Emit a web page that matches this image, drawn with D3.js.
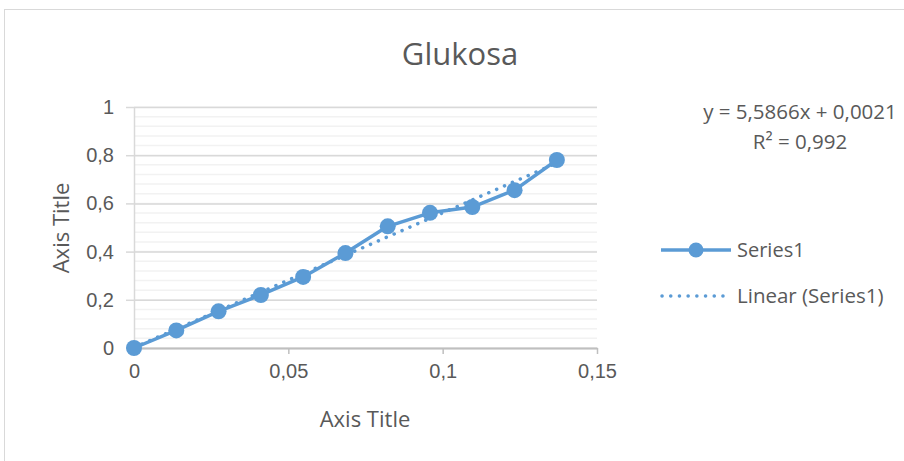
<!DOCTYPE html>
<html>
<head>
<meta charset="utf-8">
<script src="https://cdn.jsdelivr.net/npm/d3@7"></script>
<style>
  body { margin: 0; background: #fff; }
  svg { display: block; font-family: "Open Sans", "Noto Sans", sans-serif; }
</style>
</head>
<body>
<svg id="chart" width="904" height="461"></svg>
<script>
/* values */
var concentrations = [0, 0.0137, 0.0274, 0.0411, 0.0548, 0.0685, 0.0822, 0.0959, 0.1096, 0.1233, 0.137];
var absorbances = [0, 0.073, 0.152, 0.220, 0.295, 0.394, 0.505, 0.561, 0.585, 0.655, 0.780];
var xTicks = [0, 0.05, 0.1, 0.15];
var yTicks = [0, 0.2, 0.4, 0.6, 0.8, 1];
var trendSlope = 5.5866;
var trendIntercept = 0.0021;
var equationLines = ["y = 5,5866x + 0,0021", "R\u00b2 = 0,992"];
var seriesName = "Series1";
var trendName = "Linear (Series1)";

var blue = "#5B9BD5";
var textColor = "#595959";
var commaFmt = function (d) { return String(d).replace(".", ","); };

var svg = d3.select("#chart");

// outer chart border (runs off right and bottom edge)
svg.append("rect")
    .attr("x", 4.5).attr("y", 9.5)
    .attr("width", 920).attr("height", 470)
    .attr("fill", "none")
    .attr("stroke", "#D9D9D9")
    .attr("stroke-width", 1);

var x = d3.scaleLinear().domain([0, 0.15]).range([134, 597]);
var y = d3.scaleLinear().domain([0, 1]).range([348, 107]);

// minor gridlines
var minor = d3.range(0, 1.0001, 0.04);
svg.append("g").selectAll("line")
    .data(minor)
    .enter().append("line")
    .attr("x1", x(0)).attr("x2", x(0.15))
    .attr("y1", function (d) { return y(d); })
    .attr("y2", function (d) { return y(d); })
    .attr("stroke", "#F2F2F2")
    .attr("stroke-width", 1.5);

// major gridlines + y axis
var yAxis = d3.axisLeft(y).tickValues(yTicks).tickFormat(commaFmt)
    .tickSize(8).tickSizeOuter(0).tickPadding(12);
var gy = svg.append("g").attr("transform", "translate(" + x(0) + ",0)").call(yAxis);
gy.select(".domain").attr("stroke", "#D9D9D9").attr("stroke-width", 1.5);
gy.selectAll(".tick line").clone()
    .attr("x2", x(0.15) - x(0));
gy.selectAll(".tick line").attr("stroke", "#D9D9D9").attr("stroke-width", 1.5);
gy.selectAll(".tick text")
    .attr("fill", textColor)
    .style("font-size", "20px");

// x axis
var xAxis = d3.axisBottom(x).tickValues(xTicks).tickFormat(commaFmt)
    .tickSize(6).tickSizeOuter(0).tickPadding(10);
var gx = svg.append("g").attr("transform", "translate(0," + y(0) + ")").call(xAxis);
gx.select(".domain").attr("stroke", "#BFBFBF").attr("stroke-width", 2);
gx.selectAll(".tick line").attr("stroke", "#BFBFBF").attr("stroke-width", 1.5);
gx.selectAll(".tick text")
    .attr("fill", textColor)
    .style("font-size", "20px");

// trendline
var xs = d3.extent(concentrations);
svg.append("line")
    .attr("x1", x(xs[0])).attr("y1", y(trendSlope * xs[0] + trendIntercept))
    .attr("x2", x(xs[1])).attr("y2", y(trendSlope * xs[1] + trendIntercept))
    .attr("stroke", blue)
    .attr("stroke-width", 3.5)
    .attr("stroke-linecap", "round")
    .attr("stroke-dasharray", "0.1 8.5");

// series line + markers
var pts = concentrations.map(function (c, i) { return [c, absorbances[i]]; });
var line = d3.line()
    .x(function (d) { return x(d[0]); })
    .y(function (d) { return y(d[1]); });
svg.append("path")
    .attr("d", line(pts))
    .attr("fill", "none")
    .attr("stroke", blue)
    .attr("stroke-width", 3.5)
    .attr("stroke-linejoin", "round");
svg.append("g").selectAll("circle")
    .data(pts)
    .enter().append("circle")
    .attr("cx", function (d) { return x(d[0]); })
    .attr("cy", function (d) { return y(d[1]); })
    .attr("r", 8)
    .attr("fill", blue);

// title + axis titles
svg.append("text")
    .attr("x", 460).attr("y", 65)
    .attr("text-anchor", "middle")
    .attr("fill", textColor)
    .style("font-size", "31px")
    .text("Glukosa");
svg.append("text")
    .attr("x", 365).attr("y", 427)
    .attr("text-anchor", "middle")
    .attr("fill", textColor)
    .style("font-size", "22px")
    .text("Axis Title");
svg.append("text")
    .attr("transform", "translate(69,228) rotate(-90)")
    .attr("text-anchor", "middle")
    .attr("fill", textColor)
    .style("font-size", "22px")
    .text("Axis Title");

// trendline equation
svg.append("g").selectAll("text")
    .data(equationLines)
    .enter().append("text")
    .attr("x", 800)
    .attr("y", function (d, i) { return 119 + i * 30; })
    .attr("text-anchor", "middle")
    .attr("fill", textColor)
    .style("font-size", "20.5px")
    .text(function (d) { return d; });

// legend
var lg = svg.append("g");
lg.append("line")
    .attr("x1", 661).attr("x2", 731).attr("y1", 250).attr("y2", 250)
    .attr("stroke", blue).attr("stroke-width", 3.5);
lg.append("circle")
    .attr("cx", 696).attr("cy", 250).attr("r", 7.5)
    .attr("fill", blue);
lg.append("text")
    .attr("x", 737).attr("y", 257)
    .attr("fill", textColor)
    .style("font-size", "20px")
    .text(seriesName);
lg.append("line")
    .attr("x1", 662).attr("x2", 731).attr("y1", 296).attr("y2", 296)
    .attr("stroke", blue).attr("stroke-width", 3.5)
    .attr("stroke-linecap", "round")
    .attr("stroke-dasharray", "0.1 8.6");
lg.append("text")
    .attr("x", 737).attr("y", 303)
    .attr("fill", textColor)
    .style("font-size", "20.5px")
    .text(trendName);
</script>
</body>
</html>
